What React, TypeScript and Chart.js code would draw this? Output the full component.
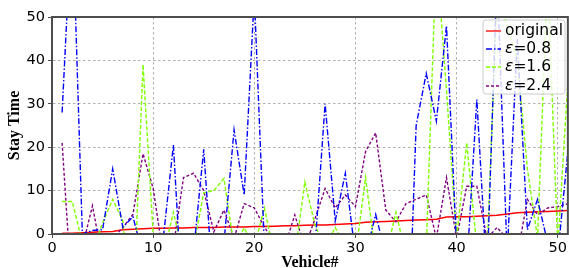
import React, { useEffect, useRef } from "react";
import { Chart, registerables } from "chart.js";

Chart.register(...registerables);

const vehicles = Array.from({ length: 51 }, (_, i) => i + 1);

const original = [
  0.2, 0.2, 0.3, 0.4, 0.5, 0.6, 1.0, 1.1, 1.2, 1.3,
  1.3, 1.4, 1.4, 1.5, 1.5, 1.5, 1.6, 1.6, 1.6, 1.7,
  1.7, 1.8, 1.9, 1.9, 2.0, 2.1, 2.1, 2.2, 2.3, 2.4,
  2.7, 2.8, 2.9, 3.0, 3.1, 3.2, 3.3, 3.4, 3.9, 4.0,
  4.0, 4.1, 4.2, 4.3, 4.6, 4.9, 5.0, 5.1, 5.2, 5.3,
  5.4,
];

const eps08 = [
  28, 75, 0, 0.8, 1, 15, 1.5, 4, -5, -5,
  -1, 20.5, -20, -4, 19.5, -15, -2, 24, 9, 55,
  -3, -5, -5, -2, -5, -3, 30, 3, 14, -5,
  -5, 4.5, -5, -5, -40, 25, 37, 26, 48, -3,
  -8, 31, -10, 60, -5, 45, 1, 8, -2, -5,
  19,
];

const eps16 = [
  7.5, 7.5, -2, -4, 2.5, 8, 3, -20, 39, 0,
  -5, 5, -5, -3, 9.5, 10, 12.8, -3, 1.4, -3,
  6, -5, -5, -5, 12, 2, -3, 1.5, -3, -5,
  13, -5, -5, 5, -5, -5, -3, 65, 33, -1,
  21, -3, -5, 55, 48, 40, 15, -1, 60, -3,
  35,
];

const eps24 = [
  21, -15, -3, 6.5, -6, -1, 1.5, 4.5, 18.5, 10.5,
  -5, -3, 13, 14, 10, 0.5, 5.5, -1, 7, 6,
  1.6, -2, -3, 4.4, -3, 3.5, 10.5, 6, 9, 6.3,
  19, 23.3, 5.5, 2.8, 7, 8, 9, -1, 13, -1,
  11, 11, -1, 1.5, -1, -5, 8, 4.4, 6, 6.3,
  7,
];

const xTicks = [0, 10, 20, 30, 40, 50];
const yTicks = [0, 10, 20, 30, 40, 50];

const legendItems = [
  { pre: "", label: "original", color: "#ff0000", dash: [] as number[] },
  { pre: "ε", label: "=0.8", color: "#0000ff", dash: [6, 2, 1.5, 2] },
  { pre: "ε", label: "=1.6", color: "#7fff00", dash: [4, 2] },
  { pre: "ε", label: "=2.4", color: "#800080", dash: [3, 2] },
];

const SPINE = "#4d4d4d";

const framePlugin = {
  id: "frameLegend",
  afterDraw(chart: any) {
    const { ctx, chartArea } = chart;
    const { left, top, right, bottom } = chartArea;
    ctx.save();
    ctx.strokeStyle = SPINE;
    ctx.lineWidth = 2;
    ctx.setLineDash([]);
    ctx.strokeRect(left, top, right - left, bottom - top);

    // legend
    const bx = 483, by = 20, bw = 82, bh = 74;
    ctx.globalAlpha = 0.8;
    ctx.fillStyle = "#ffffff";
    ctx.beginPath();
    ctx.roundRect(bx, by, bw, bh, 3);
    ctx.fill();
    ctx.globalAlpha = 1;
    ctx.strokeStyle = "#cccccc";
    ctx.lineWidth = 1;
    ctx.stroke();
    const rows = [31, 49, 67, 86];
    legendItems.forEach((it, i) => {
      const y = rows[i];
      ctx.strokeStyle = it.color;
      ctx.lineWidth = 1.3;
      ctx.setLineDash(it.dash);
      ctx.beginPath();
      ctx.moveTo(486, y);
      ctx.lineTo(501, y);
      ctx.stroke();
      ctx.setLineDash([]);
      ctx.fillStyle = "#000";
      ctx.textBaseline = "middle";
      ctx.textAlign = "left";
      let x = 505;
      if (it.pre) {
        ctx.font = 'italic 15.5px "DejaVu Sans"';
        ctx.fillText(it.pre, x, y);
        x += ctx.measureText(it.pre).width;
      }
      ctx.font = '15.5px "DejaVu Sans"';
      ctx.fillText(it.label, x, y);
    });
    ctx.restore();
  },
};

export default function App() {
  const ref = useRef<HTMLCanvasElement | null>(null);
  useEffect(() => {
    if (!ref.current) return;
    const mk = (data: number[], color: string, dash: number[], w: number) => ({
      data: vehicles.map((v, i) => ({ x: v, y: data[i] })),
      borderColor: color,
      backgroundColor: color,
      borderWidth: w,
      borderDash: dash,
      pointRadius: 0,
      tension: 0,
      fill: false,
    });
    const chart = new Chart(ref.current, {
      type: "line",
      data: {
        datasets: [
          mk(eps08, "#0000ff", [6, 2, 1.5, 2], 1.4),
          mk(eps16, "#7fff00", [4, 2], 1.4),
          mk(eps24, "#800080", [3, 2], 1.4),
          mk(original, "#ff0000", [], 1.5),
        ] as any,
      },
      options: {
        animation: false,
        responsive: false,
        devicePixelRatio: 1,
        layout: { padding: { top: 17, right: 1, left: 0, bottom: 0 } },
        plugins: { legend: { display: false }, tooltip: { enabled: false } },
        scales: {
          x: {
            type: "linear",
            min: 0,
            max: 51,
            afterBuildTicks: (s: any) => {
              s.ticks = xTicks.map((v) => ({ value: v }));
            },
            afterFit: (s: any) => {
              s.height = 34;
            },
            ticks: {
              color: "#000",
              font: { family: "DejaVu Sans", size: 14.5 },
              padding: 2,
              maxRotation: 0,
            },
            grid: {
              color: "#b0b0b0",
              lineWidth: 1,
              tickLength: 4,
              tickColor: SPINE,
            },
            border: { display: true, color: SPINE, width: 2, dash: [2.5, 2.5] },
            title: {
              display: true,
              text: "Vehicle#",
              color: "#000",
              font: { family: "Liberation Serif", size: 16, weight: "bold", lineHeight: 1 },
              padding: { top: 0, bottom: -3 },
            },
          },
          y: {
            type: "linear",
            min: 0,
            max: 50,
            afterBuildTicks: (s: any) => {
              s.ticks = yTicks.map((v) => ({ value: v }));
            },
            afterFit: (s: any) => {
              s.width = 52;
            },
            ticks: {
              color: "#000",
              font: { family: "DejaVu Sans", size: 14.5 },
              padding: 3,
            },
            grid: {
              color: "#b0b0b0",
              lineWidth: 1,
              tickLength: 4,
              tickColor: SPINE,
            },
            border: { display: true, color: SPINE, width: 2, dash: [2.5, 2.5] },
            title: {
              display: true,
              text: "Stay Time",
              color: "#000",
              font: { family: "Liberation Serif", size: 16, weight: "bold", lineHeight: 1 },
              padding: { top: 7, bottom: 0 },
            },
          },
        },
      } as any,
      plugins: [framePlugin],
    });
    return () => chart.destroy();
  }, []);
  return (
    <div style={{ position: "absolute", left: 0, top: 0, width: 569, height: 268, background: "#fff" }}>
      <canvas ref={ref} width={569} height={268} style={{ width: 569, height: 268, display: "block" }} />
    </div>
  );
}
